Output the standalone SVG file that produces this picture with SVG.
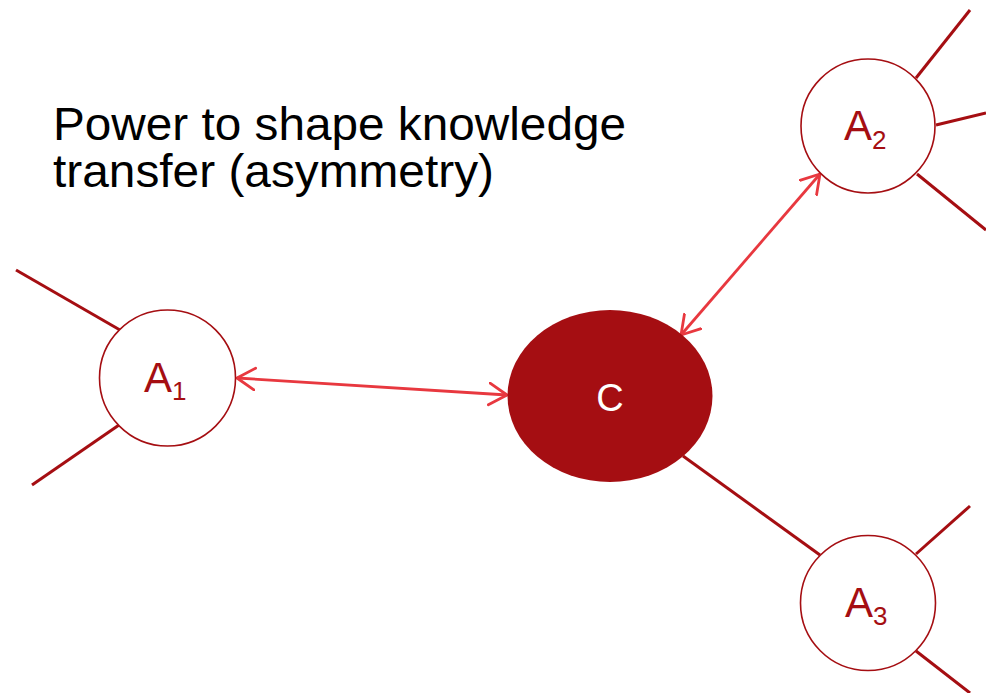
<svg xmlns="http://www.w3.org/2000/svg" width="986" height="693" viewBox="0 0 986 693">
<style>
.node{fill:#ffffff;stroke:#a50e12;stroke-width:1.6}
.core{fill:#a50e12;stroke:none}
.tie{stroke:#a50e12;stroke-width:3;fill:none}
.flow{stroke:#e8383f;stroke-width:2.8;fill:none;marker-start:url(#ah);marker-end:url(#ah)}
.lbl{font-family:"Liberation Sans",Arial,sans-serif;font-size:42px;fill:#a50e12}
.sub{font-size:26px}
.title{font-family:"Liberation Sans",Arial,sans-serif;font-size:46px;fill:#000000}
</style>
<defs>
<marker id="ah" markerUnits="userSpaceOnUse" markerWidth="24" markerHeight="28" refX="19" refY="12" orient="auto-start-reverse" viewBox="0 0 24 28">
<path d="M1,1 L19,12 L1,23" fill="none" stroke="#e8383f" stroke-width="2.8" stroke-linecap="round" stroke-linejoin="round"/>
</marker>
</defs>
<g id="title">
<text class="title" x="53" y="140" textLength="573" lengthAdjust="spacingAndGlyphs">Power to shape knowledge</text>
<text class="title" x="53" y="187" textLength="441" lengthAdjust="spacingAndGlyphs">transfer (asymmetry)</text>
</g>
<g id="connectors">
<line class="tie" x1="16" y1="270" x2="120" y2="330"/>
<line class="tie" x1="32" y1="485" x2="119" y2="425"/>
<line class="tie" x1="916" y1="78" x2="970" y2="10"/>
<line class="tie" x1="936" y1="125" x2="986" y2="113"/>
<line class="tie" x1="917" y1="174" x2="986" y2="230"/>
<line class="tie" x1="820" y1="555" x2="683" y2="456"/>
<line class="tie" x1="916" y1="554" x2="970" y2="506"/>
<line class="tie" x1="916" y1="651" x2="970" y2="693"/>
<line class="flow" x1="237" y1="378" x2="507" y2="395"/>
<line class="flow" x1="820" y1="174" x2="681" y2="335"/>
</g>
<g id="node-A1">
<circle class="node" cx="167.5" cy="378" r="68"/>
<text class="lbl" x="144" y="392">A<tspan class="sub" dy="8">1</tspan></text>
</g>
<g id="node-C">
<ellipse class="core" cx="610" cy="396" rx="102.5" ry="86"/>
<text class="lbl" x="610" y="411" text-anchor="middle" style="fill:#ffffff;font-size:38px">C</text>
</g>
<g id="node-A2">
<circle class="node" cx="868" cy="126" r="67"/>
<text class="lbl" x="844" y="140">A<tspan class="sub" dy="9">2</tspan></text>
</g>
<g id="node-A3">
<circle class="node" cx="868" cy="603" r="67.5"/>
<text class="lbl" x="845" y="617">A<tspan class="sub" dy="8">3</tspan></text>
</g>
</svg>
